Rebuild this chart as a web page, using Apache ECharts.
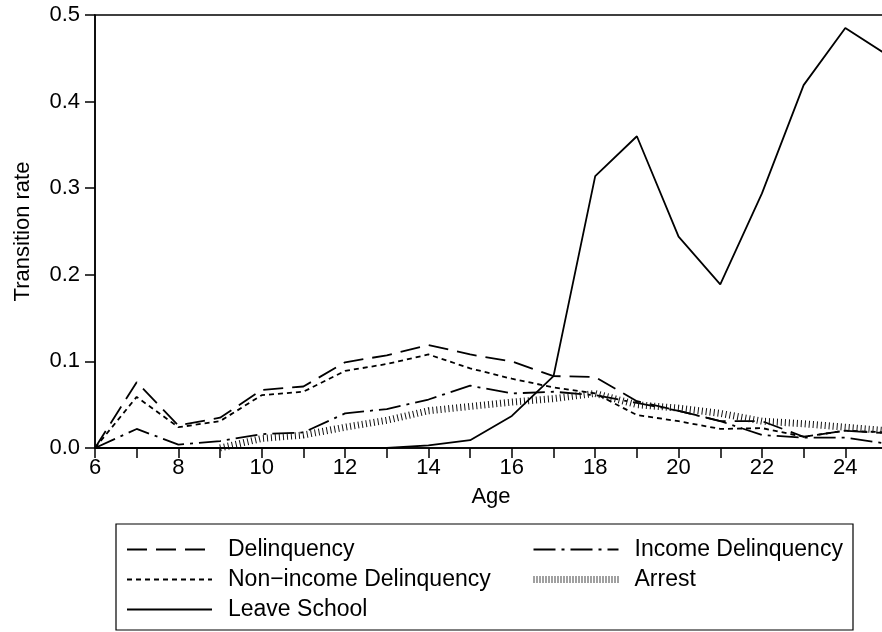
<!DOCTYPE html>
<html>
<head>
<meta charset="utf-8">
<script src="https://cdn.jsdelivr.net/npm/echarts@6/dist/echarts.min.js"></script>
<style>
  html, body { margin: 0; padding: 0; background: #fff; }
  #chart { width: 882px; height: 632px; }
</style>
</head>
<body>
<div id="chart"></div>
<script>
const ages = [6, 7, 8, 9, 10, 11, 12, 13, 14, 15, 16, 17, 18, 19, 20, 21, 22, 23, 24, 25]

const delinquency = [0, 0.076, 0.026, 0.035, 0.067, 0.071, 0.099, 0.107, 0.119, 0.108, 0.100, 0.083, 0.082, 0.054, 0.043, 0.031, 0.031, 0.013, 0.020, 0.017]
const nonIncomeDelinquency = [0, 0.059, 0.024, 0.031, 0.061, 0.065, 0.089, 0.097, 0.108, 0.092, 0.080, 0.070, 0.063, 0.038, 0.031, 0.022, 0.023, 0.013, 0.020, 0.018]
const incomeDelinquency = [0, 0.022, 0.004, 0.008, 0.016, 0.018, 0.040, 0.045, 0.056, 0.072, 0.063, 0.065, 0.061, 0.052, 0.043, 0.031, 0.015, 0.012, 0.012, 0.005]
const arrest = [null, null, null, 0, 0.011, 0.015, 0.024, 0.032, 0.043, 0.048, 0.053, 0.057, 0.063, 0.050, 0.046, 0.040, 0.031, 0.028, 0.024, 0.020]
const leaveSchool = [0, 0, 0, 0, 0, 0, 0, 0, 0.003, 0.009, 0.037, 0.083, 0.314, 0.360, 0.244, 0.189, 0.294, 0.419, 0.485, 0.454]

const yTicks = [0, 0.1, 0.2, 0.3, 0.4, 0.5]

const font = 'Liberation Sans, Arial, sans-serif'
const pairs = (vals) => ages.map((a, i) => [a, vals[i]])

const chart = echarts.init(document.getElementById('chart'))

const lineSeries = (name, vals, lineStyle) => ({
  name,
  type: 'line',
  data: pairs(vals),
  symbol: 'none',
  connectNulls: false,
  lineStyle: Object.assign({ color: '#000', width: 1.8 }, lineStyle),
  itemStyle: { color: '#000' },
  animation: false,
})

// dotted "hatch" look of the arrest curve
const arrestStyle = { type: [1, 3], width: 7, color: '#111' }

const legendText = { fontFamily: font, fontSize: 23, color: '#000', padding: [0, 0, 0, 11] }
const legendBase = {
  orient: 'vertical',
  top: 533,
  itemWidth: 85,
  itemHeight: 14,
  itemGap: 7,
  itemStyle: { opacity: 0 },
  textStyle: legendText,
}

chart.setOption({
  animation: false,
  grid: {
    left: 95,
    top: 15,
    right: -5,
    bottom: 184,
    outerBoundsMode: 'none',
    containLabel: false,
    show: true,
    borderColor: '#000',
    borderWidth: 1.5,
  },
  legend: [
    Object.assign({}, legendBase, {
      left: 121,
      data: ['Delinquency', 'Non\u2212income Delinquency', 'Leave School'],
    }),
    Object.assign({}, legendBase, {
      left: 525,
      data: ['Income Delinquency', { name: 'Arrest', lineStyle: { width: 7, type: [1, 2], color: '#444' } }],
    }),
  ],
  graphic: [
    {
      type: 'rect',
      shape: { x: 116, y: 524, width: 737, height: 106 },
      style: { fill: 'none', stroke: '#000', lineWidth: 1.2 },
    },
  ],
  xAxis: {
    type: 'value',
    min: 6,
    max: 25,
    interval: 1,
    name: 'Age',
    nameLocation: 'middle',
    nameGap: 38,
    nameTextStyle: { fontFamily: font, fontSize: 22, color: '#000' },
    axisLine: { lineStyle: { color: '#000', width: 1.5 } },
    axisTick: { inside: false, length: 10, lineStyle: { color: '#000', width: 1.5 } },
    axisLabel: {
      fontFamily: font,
      fontSize: 22,
      color: '#000',
      margin: 9,
      formatter: (v) => (v % 2 === 0 ? String(v) : ''),
    },
    splitLine: { show: false },
  },
  yAxis: {
    type: 'value',
    min: yTicks[0],
    max: yTicks[yTicks.length - 1],
    interval: 0.1,
    name: 'Transition rate',
    nameLocation: 'middle',
    nameGap: 61,
    nameTextStyle: { fontFamily: font, fontSize: 22, color: '#000' },
    axisLine: { show: true, lineStyle: { color: '#000', width: 1.5 } },
    axisTick: { show: true, inside: false, length: 10, lineStyle: { color: '#000', width: 1.5 } },
    axisLabel: {
      fontFamily: font,
      fontSize: 22,
      color: '#000',
      margin: 15,
      formatter: (v) => v.toFixed(1),
    },
    splitLine: { show: false },
  },
  series: [
    lineSeries('Delinquency', delinquency, { type: [20, 9] }),
    lineSeries('Income Delinquency', incomeDelinquency, { type: [22, 6, 3, 6] }),
    lineSeries('Non\u2212income Delinquency', nonIncomeDelinquency, { type: [5, 4] }),
    lineSeries('Arrest', arrest, arrestStyle),
    lineSeries('Leave School', leaveSchool, {}),
  ],
})

window.addEventListener('resize', () => chart.resize())
</script>
</body>
</html>
